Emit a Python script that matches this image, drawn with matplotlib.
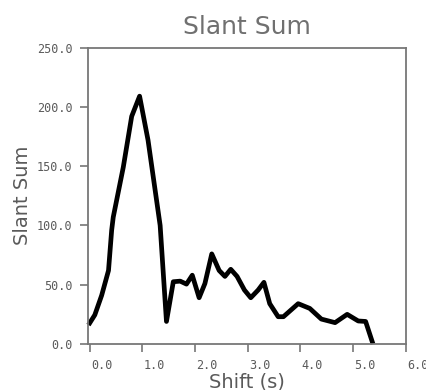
import matplotlib
matplotlib.use("Agg")
import matplotlib.pyplot as plt
import matplotlib.transforms as mtransforms
import numpy as np

# shift (s) and slant sum values
shift = [-0.02, 0.10, 0.23, 0.36, 0.42, 0.45, 0.64, 0.80, 0.95, 1.11, 1.34,
         1.46, 1.59, 1.72, 1.84, 1.95, 2.08, 2.19, 2.32, 2.46, 2.57, 2.68,
         2.80, 2.94, 3.06, 3.20, 3.31, 3.42, 3.58, 3.68, 3.96, 4.18, 4.40,
         4.66, 4.89, 5.10, 5.24, 5.38]
slant = [16, 24.5, 41, 62, 96, 107, 149, 192, 209, 172, 100,
         19, 52.5, 53, 50.5, 58, 39, 51, 76, 62, 57, 63,
         57, 45.5, 39, 45.5, 52, 34, 23, 23, 34, 30, 21,
         18, 25, 19.4, 19, 0]

xticks = [0, 1, 2, 3, 4, 5, 6]
yticks = [0, 50, 100, 150, 200, 250]

grey = "#5a5a5a"

fig = plt.figure(figsize=(4.27, 3.90), dpi=100)
ax = fig.add_axes([0.206, 0.118, 0.744, 0.760])

ax.plot(shift, slant, color="black", lw=3.4, solid_joinstyle="round",
        solid_capstyle="butt", clip_on=False)

ax.set_xlim(-0.03, 6.0)
ax.set_ylim(0, 250)
ax.set_xticks(xticks)
ax.set_xticklabels(["%.1f" % v for v in xticks])
ax.set_yticks(yticks)
ax.set_yticklabels(["%.1f" % v for v in yticks])

for s in ax.spines.values():
    s.set_color("#777777")
    s.set_linewidth(1.3)

ax.tick_params(direction="out", length=6, width=1.2, color="#777777",
               labelsize=8.5, labelcolor=grey, pad=5)
for lab in ax.get_xticklabels() + ax.get_yticklabels():
    lab.set_family("DejaVu Sans Mono")

# x tick labels sit a little to the right of their ticks
offset = mtransforms.ScaledTranslation(12 / 100, 0, fig.dpi_scale_trans)
for lab in ax.get_xticklabels():
    lab.set_transform(lab.get_transform() + offset)

ax.set_title("Slant Sum", fontsize=18, color="#707070", pad=10)
ax.set_xlabel("Shift (s)", fontsize=14, color=grey, labelpad=0)
ax.set_ylabel("Slant Sum", fontsize=14, color=grey, labelpad=4)

fig.savefig("out.png", dpi=100)
